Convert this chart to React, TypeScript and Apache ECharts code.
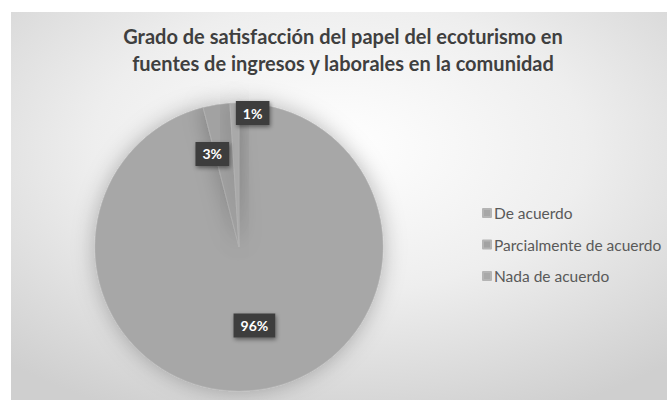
import React, { useEffect, useRef } from "react";
import * as echarts from "echarts";

const titleText = "Grado de satisfacción del papel del ecoturismo en\nfuentes de ingresos y laborales en la comunidad";
const categories = ["De acuerdo", "Parcialmente de acuerdo", "Nada de acuerdo"];
const values = [96, 3, 1];
const sliceColors = ["#a7a7a7", "#a2a2a2", "#a9a9a9"];
const labelOffsets: [number, number][] = [[6, 4], [-15, -19], [16, -59]];

export default function App() {
  const ref = useRef<HTMLDivElement>(null);
  useEffect(() => {
    document.body.style.margin = "0";
    const chart = echarts.init(ref.current!, null, { renderer: "svg" });
    chart.setOption({
      animation: false,
      backgroundColor: "#ffffff",
      graphic: [
        {
          type: "rect",
          z: -10,
          silent: true,
          shape: { x: 11, y: 12, width: 656, height: 388 },
          style: {
            fill: new echarts.graphic.RadialGradient(0.5, 0.35, 0.75, [
              { offset: 0, color: "#ffffff" },
              { offset: 0.5, color: "#eeeeee" },
              { offset: 1, color: "#cfcfcf" },
            ]),
          },
        },
      ],
      title: {
        text: titleText,
        left: 338,
        textAlign: "center",
        top: 17,
        textStyle: {
          fontFamily: "Lato",
          fontWeight: "bold",
          fontSize: 20,
          lineHeight: 27,
          color: "#3f3f3f",
        },
      },
      legend: {
        orient: "vertical",
        left: 482,
        top: 205,
        padding: 0,
        itemWidth: 8,
        itemHeight: 8,
        itemGap: 15.5,
        icon: "rect",
        textStyle: { fontFamily: "Lato", fontSize: 15.5, color: "#595959", padding: [0, 0, 0, -2] },
        data: categories,
      },
      series: [
        {
          type: "pie",
          center: [239, 247],
          radius: 144,
          startAngle: 90,
          clockwise: true,
          label: {
            show: true,
            position: "inside",
            formatter: "{c}%",
            color: "#ffffff",
            fontFamily: "Lato",
            fontWeight: "bold",
            fontSize: 14,
            backgroundColor: "#3c3c3c",
            padding: [5, 7],
            shadowBlur: 4,
            shadowColor: "rgba(0,0,0,0.45)",
            shadowOffsetX: 1,
            shadowOffsetY: 2,
          },
          labelLine: { show: false },
          itemStyle: {
            borderColor: "#b4b4b4",
            borderWidth: 0.6,
            shadowBlur: 22,
            shadowColor: "rgba(0,0,0,0.28)",
          },
          data: categories.map((name, i) => ({
            name,
            value: values[i],
            itemStyle: { color: sliceColors[i] },
            label: { offset: labelOffsets[i] },
          })),
        },
      ],
    });
    return () => chart.dispose();
  }, []);
  return <div ref={ref} style={{ width: 667, height: 400 }} />;
}
